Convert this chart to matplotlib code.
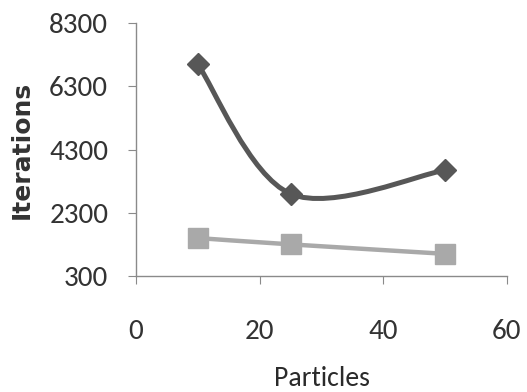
import numpy as np
import matplotlib
matplotlib.use("Agg")
import matplotlib.pyplot as plt
from matplotlib.path import Path
from matplotlib.patches import PathPatch
from matplotlib import font_manager as fm

#%% data
particles = [10, 25, 50]
iter_dark = [7000, 2900, 3650]
iter_light = [1500, 1300, 1000]

y_ticks = [300, 2300, 4300, 6300, 8300]
x_ticks = [0, 20, 40, 60]

#%% pick a narrow calibri-like font if there is one
installed = set(f.name for f in fm.fontManager.ttflist)
candidates = ['Carlito', 'Open Sans Condensed', 'Roboto Condensed', 'PT Sans Narrow',
              'Archivo Narrow', 'Fira Sans Condensed', 'Liberation Sans Narrow',
              'Encode Sans Condensed', 'Noto Sans']
font_name = next((c for c in candidates if c in installed), 'DejaVu Sans')

#%% excel style smoothed line (bezier through the points)
def smooth_path(xs, ys):
    pts = np.column_stack([xs, ys]).astype(float)
    n = len(pts)
    verts = [pts[0]]
    codes = [Path.MOVETO]
    for i in range(n - 1):
        p_prev = pts[max(i - 1, 0)]
        p0 = pts[i]
        p1 = pts[i + 1]
        p_next = pts[min(i + 2, n - 1)]
        c1 = p0 + (p1 - p_prev) / 6.0
        c2 = p1 - (p_next - p0) / 6.0
        verts += [c1, c2, p1]
        codes += [Path.CURVE4] * 3
    return Path(verts, codes)

plt.rcParams['font.family'] = [font_name, 'DejaVu Sans']

fig = plt.figure(figsize=(5.27, 3.92), dpi=100)
ax = fig.add_axes([0.258, 0.296, 0.704, 0.645])

dark = '#575757'
light = '#a9a9a9'

for ys, col, mk, ms, lw in [(iter_dark, dark, 'D', 11.5, 3.6), (iter_light, light, 's', 14.5, 3.2)]:
    ax.add_patch(PathPatch(smooth_path(particles, ys), fill=False,
                           edgecolor=col, lw=lw, zorder=2,
                           capstyle='round', joinstyle='round'))
    ax.plot(particles, ys, linestyle='none', marker=mk, markersize=ms,
            color=col, zorder=3)

ax.set_xlim(0, 60)
ax.set_ylim(300, 8300)
ax.set_xticks(x_ticks)
ax.set_yticks(y_ticks)

for s in ['top', 'right']:
    ax.spines[s].set_visible(False)
for s in ['left', 'bottom']:
    ax.spines[s].set_color('#8a8a8a')
    ax.spines[s].set_linewidth(1.0)

ax.tick_params(axis='y', direction='out', length=6, color='#8a8a8a',
               labelsize=21, labelcolor='#333333', pad=14)
ax.tick_params(axis='x', direction='out', length=6, color='#8a8a8a',
               labelsize=21, labelcolor='#333333', pad=25)

ax.set_ylabel("Iterations", fontsize=18, fontweight='bold', color='#333333',
              family=['DejaVu Sans'], labelpad=11)
ax.set_xlabel("Particles", fontsize=20, color='#2a2a2a', labelpad=16)

fig.savefig('out.png', dpi=100)
